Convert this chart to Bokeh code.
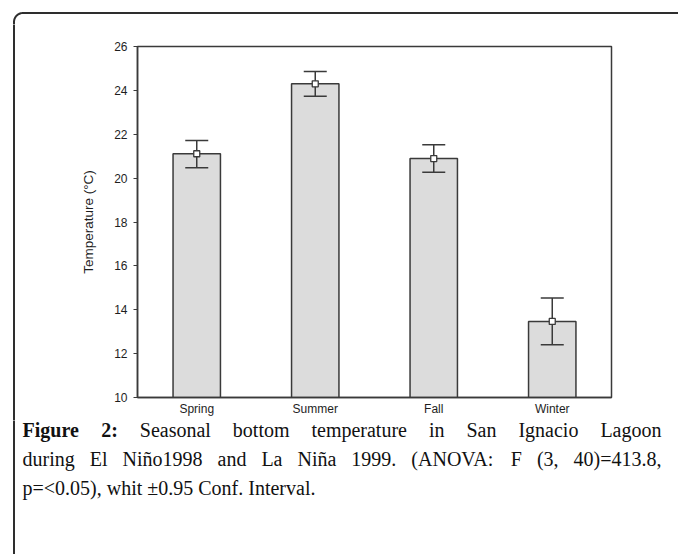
import numpy as np
from bokeh.plotting import figure
from bokeh.layouts import column, row
from bokeh.models import (ColumnDataSource, FactorRange, Range1d, Whisker, TeeHead,
                          FixedTicker)
from bokeh.core.properties import value
from bokeh.embed import file_html
from bokeh.resources import INLINE

# ---- data ----
seasons = ["Spring", "Summer", "Fall", "Winter"]
mean_temp = [21.11, 24.30, 20.89, 13.47]
ci_lower = [20.47, 23.73, 20.27, 12.40]
ci_upper = [21.72, 24.86, 21.52, 14.53]
y_ticks = [10, 12, 14, 16, 18, 20, 22, 24, 26]

caption_line1 = [("Figure", True), ("2:", True), ("Seasonal", False), ("bottom", False),
                 ("temperature", False), ("in", False), ("San", False), ("Ignacio", False),
                 ("Lagoon", False)]
caption_line2 = ["during", "El", "Niño1998", "and", "La", "Niña", "1999.", "(ANOVA:",
                 "F", "(3,", "40)=413.8,"]
caption_line3 = "p=<0.05), whit ±0.95 Conf. Interval."

DARK = "#3a3a3a"
TEXT = "#1e1e1e"
BORDER = "#2e2e2e"
W, H = 678, 554
TOP_H = 24          # strip holding the top border
STRIP_W = 16        # strip holding the left border beside the chart
CHART_H = 396
CAP_H = H - TOP_H - CHART_H
BX, BY, R = 13.5, 12.5, 9   # border line position and corner radius


def no_align(f):
    if "frame_align" in f.properties():
        f.frame_align = False
    return f


def blank(w, h, x0, x1, y0, y1):
    f = figure(width=w, height=h, x_range=Range1d(x0, x1), y_range=Range1d(y0, y1),
               output_backend="svg", toolbar_location=None,
               x_axis_location=None, y_axis_location=None, min_border=0,
               min_border_left=0, min_border_right=0, min_border_top=0, min_border_bottom=0)
    f.grid.visible = False
    f.outline_line_color = None
    f.border_fill_color = "white"
    f.background_fill_color = "white"
    return no_align(f)


# ---- top strip: top border with rounded corner ----
top = blank(W, TOP_H, 0, W, TOP_H, 0)
ang = np.linspace(np.pi, 1.5 * np.pi, 20)
arc_x = list(BX + R + R * np.cos(ang))
arc_y = list(BY + R + R * np.sin(ang))
top.line([BX] + arc_x + [W], [TOP_H + 1] + arc_y + [BY], line_color=BORDER, line_width=2)

# ---- left strip beside the chart ----
left = blank(STRIP_W, CHART_H, 0, STRIP_W, CHART_H, 0)
left.line([BX, BX], [-1, CHART_H + 1], line_color=BORDER, line_width=2)

# ---- chart ----
src = ColumnDataSource(dict(season=seasons, mean=mean_temp, lower=ci_lower, upper=ci_upper))

p = figure(width=W - STRIP_W, height=CHART_H, x_range=FactorRange(*seasons, range_padding=0),
           y_range=Range1d(10, 26), output_backend="svg", toolbar_location=None,
           min_border_left=121, min_border_right=67, min_border_top=22, min_border_bottom=23)
no_align(p)
p.xgrid.visible = False
p.ygrid.visible = False
p.outline_line_color = DARK
p.outline_line_width = 1.5
p.background_fill_color = "white"
p.border_fill_color = "white"

p.vbar(x="season", top="mean", bottom=10, width=0.4, source=src,
       fill_color="#dcdcdc", line_color=DARK, line_width=1.5)

wh = Whisker(base="season", lower="lower", upper="upper", source=src,
             line_color=DARK, line_width=1.5, level="annotation",
             upper_head=TeeHead(size=23, line_color=DARK, line_width=1.5),
             lower_head=TeeHead(size=23, line_color=DARK, line_width=1.5))
p.add_layout(wh)

mk = p.scatter(x="season", y="mean", source=src, marker="square", size=6,
               fill_color="white", line_color=DARK, line_width=1.3)
mk.level = "overlay"

p.yaxis.ticker = FixedTicker(ticks=y_ticks)
p.yaxis.minor_tick_line_color = None
p.yaxis.major_tick_out = 4
p.yaxis.major_tick_in = 0
p.yaxis.major_tick_line_color = DARK
p.yaxis.axis_line_color = DARK
p.yaxis.axis_line_width = 1.5
p.yaxis.major_label_text_font = "Liberation Sans"
p.yaxis.major_label_text_font_size = "12px"
p.yaxis.major_label_text_color = TEXT
p.yaxis.major_label_standoff = 6
p.yaxis.axis_label = "Temperature (°C)"
p.yaxis.axis_label_text_font = "Liberation Sans"
p.yaxis.axis_label_text_font_size = "13.5px"
p.yaxis.axis_label_text_font_style = "normal"
p.yaxis.axis_label_text_color = TEXT
p.yaxis.axis_label_standoff = 15

p.xaxis.major_tick_line_color = None
p.xaxis.minor_tick_line_color = None
p.xaxis.major_tick_out = 0
p.xaxis.major_tick_in = 0
p.xaxis.axis_line_color = DARK
p.xaxis.axis_line_width = 1.5
p.xaxis.major_label_text_font = "Liberation Sans"
p.xaxis.major_label_text_font_size = "12px"
p.xaxis.major_label_text_color = TEXT
p.xaxis.major_label_standoff = 4

# ---- caption (page-pixel coordinates) ----
y_cap0 = TOP_H + CHART_H
cap = blank(W, CAP_H, 0, W, H, y_cap0)
cap.line([BX, BX], [y_cap0 - 1, H + 1], line_color=BORDER, line_width=2)

TW = {'a': 444, 'b': 500, 'c': 444, 'd': 500, 'e': 444, 'f': 333, 'g': 500, 'h': 500,
      'i': 278, 'j': 278, 'k': 500, 'l': 278, 'm': 778, 'n': 500, 'o': 500, 'p': 500,
      'q': 500, 'r': 333, 's': 389, 't': 278, 'u': 500, 'v': 500, 'w': 722, 'x': 500,
      'y': 500, 'z': 444, 'A': 722, 'E': 611, 'F': 556, 'I': 333, 'L': 611, 'N': 722,
      'O': 722, 'S': 556, 'V': 722, 'C': 667, 'ñ': 500, '.': 250, ',': 250, ':': 278,
      '(': 333, ')': 333, '=': 564, '<': 564, '±': 564, ' ': 250}
TWB = {'F': 611, 'i': 278, 'g': 500, 'u': 556, 'r': 444, 'e': 444, '2': 500, ':': 333}
FS = 20
X0, X1 = 22, 661
BASE = [429, 458, 487]


def width_of(word, bold=False):
    tbl = TWB if bold else TW
    return sum(tbl.get(ch, 500) for ch in word) / 1000 * FS


def add_words(words, y):
    ws = [width_of(w, b) for w, b in words]
    gap = (X1 - X0 - sum(ws)) / (len(words) - 1)
    xs, x = [], X0
    for wd in ws:
        xs.append(x)
        x += wd + gap
    for style in ("bold", "normal"):
        sel = [i for i, (w, b) in enumerate(words) if (b == (style == "bold"))]
        if not sel:
            continue
        cap.text(x=[xs[i] for i in sel], y=[y] * len(sel), text=[words[i][0] for i in sel],
                 text_font=value("Liberation Serif"), text_font_size=f"{FS}px",
                 text_font_style=style, text_color="#111111",
                 text_baseline="alphabetic", text_align="left")


add_words(caption_line1, BASE[0])
add_words([(w, False) for w in caption_line2], BASE[1])
cap.text(x=[X0], y=[BASE[2]], text=[caption_line3], text_font=value("Liberation Serif"),
         text_font_size=f"{FS}px", text_color="#111111",
         text_baseline="alphabetic", text_align="left")

layout = column(top, row(left, p), cap)
open("out.html", "w").write(file_html(layout, INLINE))
